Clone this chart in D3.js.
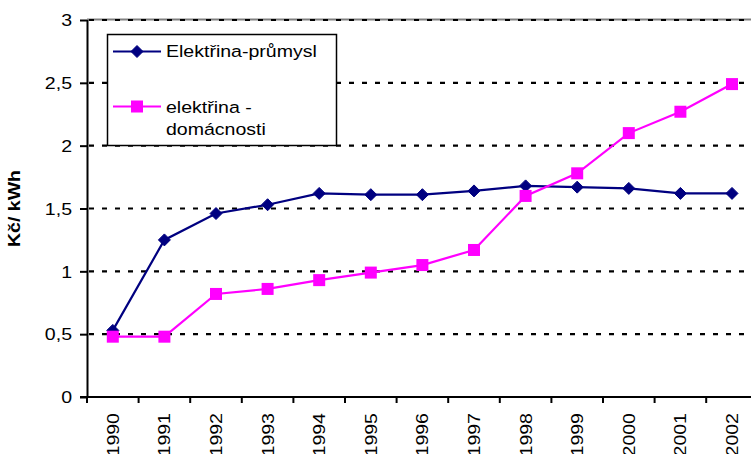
<!DOCTYPE html>
<html>
<head>
<meta charset="utf-8">
<script src="https://cdn.jsdelivr.net/npm/d3@7"></script>
<style>
  html, body { margin: 0; padding: 0; background: #fff; }
  svg { display: block; font-family: "Liberation Sans", Arial, sans-serif; }
</style>
</head>
<body>
<svg id="chart" width="751" height="454"></svg>
<script>
// Ceny elektřiny (Kč/kWh), 1990–2002
const years = ["1990","1991","1992","1993","1994","1995","1996","1997","1998","1999","2000","2001","2002"];
const prumysl = [0.53, 1.25, 1.46, 1.53, 1.62, 1.61, 1.61, 1.64, 1.68, 1.67, 1.66, 1.62, 1.62];
const domacnosti = [0.48, 0.48, 0.82, 0.86, 0.93, 0.99, 1.05, 1.17, 1.60, 1.78, 2.10, 2.27, 2.49];
const yTicks = [0, 0.5, 1, 1.5, 2, 2.5, 3];
const seriesNames = ["Elektřina-průmysl", "elektřina - domácnosti"];

const svg = d3.select("#chart");
const plotLeft = 87, plotTop = 20, plotBottom = 397;
const band = 51.6;
const plotRight = plotLeft + band * years.length;
const FS = 17;        // font size
const SX = 1.15;      // glyphs are drawn slightly wide along the baseline

const x = d3.scaleBand().domain(years).range([plotLeft, plotRight]).paddingInner(0).paddingOuter(0);
const y = d3.scaleLinear().domain([0, 3]).range([plotBottom, plotTop]);
const fmt = v => String(v).replace(".", ",");

// plot border (top)
svg.append("line")
  .attr("x1", plotLeft).attr("x2", plotRight)
  .attr("y1", plotTop - 0.5).attr("y2", plotTop - 0.5)
  .attr("stroke", "#808080").attr("stroke-width", 2);

// dashed gridlines
svg.append("g").selectAll("line")
  .data(yTicks.filter(v => v > 0))
  .join("line")
  .attr("x1", plotLeft + 2).attr("x2", plotRight)
  .attr("y1", d => y(d)).attr("y2", d => y(d))
  .attr("stroke", "#000").attr("stroke-width", 2.2)
  .attr("stroke-dasharray", "5,8");

// y axis
const yAxis = svg.append("g")
  .attr("transform", `translate(${plotLeft},0)`)
  .call(d3.axisLeft(y).tickValues(yTicks).tickFormat(fmt).tickSize(7));
yAxis.select(".domain").attr("stroke", "#000").attr("stroke-width", 2).attr("d", `M0.5,${plotTop}V${plotBottom}`);
yAxis.selectAll(".tick line").attr("stroke", "#000").attr("stroke-width", 2);
yAxis.selectAll(".tick text")
  .attr("x", 0).attr("dy", "0.34em")
  .attr("transform", `translate(-15,0) scale(${SX},1)`)
  .attr("font-size", FS).attr("fill", "#000")
  .attr("font-family", "'Liberation Sans', Arial, sans-serif");

// x axis: ticks on band boundaries, labels rotated at band centres
const xAxisG = svg.append("g").attr("transform", `translate(0,${plotBottom})`);
xAxisG.append("line")
  .attr("x1", plotLeft - 7).attr("x2", plotRight)
  .attr("y1", 0).attr("y2", 0)
  .attr("stroke", "#000").attr("stroke-width", 2);
xAxisG.selectAll("line.tk")
  .data(years.map((d, i) => i))
  .join("line").attr("class", "tk")
  .attr("x1", i => plotLeft + i * band).attr("x2", i => plotLeft + i * band)
  .attr("y1", 0).attr("y2", 6)
  .attr("stroke", "#000").attr("stroke-width", 2);
xAxisG.selectAll("text")
  .data(years)
  .join("text")
  .attr("transform", d => `translate(${x(d) + x.bandwidth() / 2 + 6},16) rotate(-90) scale(${SX},1)`)
  .attr("text-anchor", "end")
  .attr("font-size", FS)
  .attr("fill", "#000")
  .text(d => d);

// y axis title
svg.append("text")
  .attr("transform", `translate(20,${(plotTop + plotBottom) / 2}) rotate(-90) scale(${SX},1)`)
  .attr("text-anchor", "middle")
  .attr("font-size", FS)
  .attr("font-weight", "bold")
  .attr("fill", "#000")
  .text("Kč/ kWh");

const cx = d => x(d) + x.bandwidth() / 2;
const line = d3.line().x((v, i) => cx(years[i])).y(v => y(v));

const navy = "#000080", magenta = "#FF00FF";
const diamond = (g, px, py, s) => g.append("path")
  .attr("d", `M${px},${py - s}L${px + s},${py}L${px},${py + s}L${px - s},${py}Z`)
  .attr("fill", navy).attr("stroke", navy).attr("stroke-width", 1);
const square = (g, px, py, s) => g.append("rect")
  .attr("x", px - s).attr("y", py - s).attr("width", 2 * s).attr("height", 2 * s)
  .attr("fill", magenta);

// industry series
const g1 = svg.append("g");
g1.append("path").datum(prumysl).attr("d", line)
  .attr("fill", "none").attr("stroke", navy).attr("stroke-width", 2.2);
prumysl.forEach((v, i) => diamond(g1, cx(years[i]), y(v), 6));

// household series
const g2 = svg.append("g");
g2.append("path").datum(domacnosti).attr("d", line)
  .attr("fill", "none").attr("stroke", magenta).attr("stroke-width", 2.2);
domacnosti.forEach((v, i) => square(g2, cx(years[i]), y(v), 6));

// legend
const lg = svg.append("g");
const label = (px, py, s) => lg.append("text")
  .attr("transform", `translate(${px},${py}) scale(${SX},1)`)
  .attr("font-size", FS).attr("fill", "#000").text(s);
lg.append("rect").attr("x", 107.5).attr("y", 34.5).attr("width", 229).attr("height", 111)
  .attr("fill", "#fff").attr("stroke", "#000").attr("stroke-width", 1.5);
lg.append("line").attr("x1", 113).attr("x2", 161).attr("y1", 51.5).attr("y2", 51.5)
  .attr("stroke", navy).attr("stroke-width", 2.2);
diamond(lg, 137, 51.5, 6);
label(166, 57, seriesNames[0]);
lg.append("line").attr("x1", 113).attr("x2", 161).attr("y1", 106.5).attr("y2", 106.5)
  .attr("stroke", magenta).attr("stroke-width", 2.2);
square(lg, 137, 106.5, 6);
label(166, 113, "elektřina -");
label(166, 135, "domácnosti");
</script>
</body>
</html>
